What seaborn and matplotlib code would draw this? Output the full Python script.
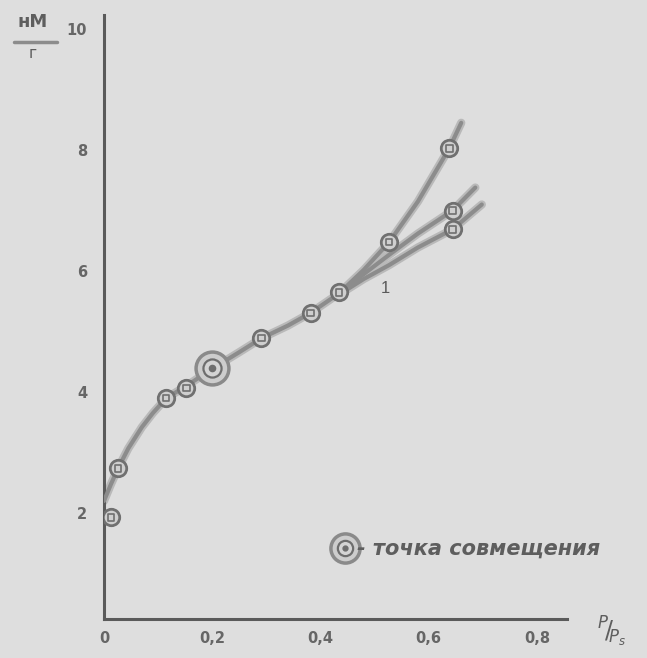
import matplotlib
matplotlib.use("Agg")
import matplotlib.pyplot as plt
import seaborn as sns
import numpy as np
import pandas as pd
from matplotlib.lines import Line2D

# ---- data ----
pts_x = [0.013, 0.026, 0.115, 0.152, 0.291, 0.382, 0.434, 0.527, 0.638, 0.644, 0.644]
pts_y = [1.93, 2.74, 3.90, 4.07, 4.89, 5.31, 5.65, 6.48, 8.03, 7.00, 6.69]

match_x = [0.199]          # точка совмещения
match_y = [4.40]

common_x = [0.0, 0.013, 0.026, 0.045, 0.07, 0.09, 0.115, 0.152, 0.199, 0.25, 0.291, 0.34, 0.382, 0.434]
common_y = [2.20, 2.48, 2.74, 3.07, 3.42, 3.65, 3.90, 4.10, 4.38, 4.66, 4.89, 5.10, 5.31, 5.63]

top_x = [0.434, 0.48, 0.527, 0.58, 0.638, 0.66]
top_y = [5.63, 6.02, 6.48, 7.15, 8.03, 8.45]
mid_x = [0.434, 0.48, 0.527, 0.58, 0.644, 0.686]
mid_y = [5.63, 5.95, 6.27, 6.62, 7.00, 7.38]
low_x = [0.434, 0.48, 0.527, 0.58, 0.644, 0.698]
low_y = [5.61, 5.87, 6.10, 6.39, 6.69, 7.10]

xticks = [0, 0.2, 0.4, 0.6, 0.8]
xtick_labels = ["0", "0,2", "0,4", "0,6", "0,8"]
yticks = [2, 4, 6, 8, 10]
ytick_labels = ["2", "4", "6", "8", "10"]

BG = "#dedede"
LINE = "#8c8c8c"
HALO = "#b9b9b9"
DARK = "#5a5a5a"
TXT = "#5e5e5e"

sns.set_theme(style="white")
plt.rcParams["font.family"] = ["DejaVu Sans"]

fig = plt.figure(figsize=(6.47, 6.58), dpi=100, facecolor=BG)
ax = fig.add_axes([0.1607, 0.0593, 0.876 - 0.1607, 0.977 - 0.0593])
ax.set_facecolor(BG)

curves = [(common_x, common_y), (top_x, top_y), (mid_x, mid_y), (low_x, low_y)]
for cx, cy in curves:
    df = pd.DataFrame({"x": cx, "y": cy})
    sns.lineplot(data=df, x="x", y="y", ax=ax, sort=False, color=HALO, lw=6.0,
                 solid_capstyle="round", zorder=2)
for cx, cy in curves:
    df = pd.DataFrame({"x": cx, "y": cy})
    sns.lineplot(data=df, x="x", y="y", ax=ax, sort=False, color=LINE, lw=3.0,
                 solid_capstyle="round", zorder=3)

pdf = pd.DataFrame({"x": pts_x, "y": pts_y})
sns.scatterplot(data=pdf, x="x", y="y", ax=ax, s=140, marker="o",
                facecolor="#cfcfcf", edgecolor="#707070", linewidth=2.0, zorder=5)
sns.scatterplot(data=pdf, x="x", y="y", ax=ax, s=22, marker="s",
                facecolor="none", edgecolor="#707070", linewidth=1.2, zorder=6)

mdf = pd.DataFrame({"x": match_x, "y": match_y})
for s, fc, ec, lw in [(560, "#cdcdcd", "#8a8a8a", 2.5), (170, "#d4d4d4", "#6e6e6e", 1.6),
                      (20, "#6e6e6e", "#6e6e6e", 1.0)]:
    sns.scatterplot(data=mdf, x="x", y="y", ax=ax, s=s, marker="o",
                    facecolor=fc, edgecolor=ec, linewidth=lw, zorder=7)

ax.set_xlim(0, 0.855)
ax.set_ylim(0.25, 10.23)
ax.set_xticks(xticks)
ax.set_xticklabels(xtick_labels, fontweight="bold")
ax.set_yticks(yticks)
ax.set_yticklabels(ytick_labels, fontweight="bold")
ax.set_xlabel("")
ax.set_ylabel("")
for side in ["top", "right"]:
    ax.spines[side].set_visible(False)
for side in ["left", "bottom"]:
    ax.spines[side].set_color(DARK)
    ax.spines[side].set_linewidth(2.2)
ax.tick_params(axis="both", colors=DARK, labelcolor="#666666", labelsize=10.5,
               direction="in", length=5, width=1.2)
ax.tick_params(axis="x", pad=9)
ax.tick_params(axis="y", pad=12)

# curve label "1"
ax.text(0.52, 5.72, "1", fontsize=12, color=DARK, family="Liberation Sans",
        ha="center", va="center")

# legend: match-point marker + text
lx, ly = 345, 548
fig.add_artist(Line2D([lx / 647], [1 - ly / 658], marker="o", markersize=21,
                      markerfacecolor="#cdcdcd", markeredgecolor="#8a8a8a",
                      markeredgewidth=2.5, transform=fig.transFigure))
fig.add_artist(Line2D([lx / 647], [1 - ly / 658], marker="o", markersize=11,
                      markerfacecolor="#d4d4d4", markeredgecolor="#6e6e6e",
                      markeredgewidth=1.6, transform=fig.transFigure))
fig.add_artist(Line2D([lx / 647], [1 - ly / 658], marker="o", markersize=3.5,
                      markerfacecolor="#6e6e6e", markeredgecolor="#6e6e6e",
                      transform=fig.transFigure))
fig.text(357 / 647, 1 - 549 / 658, "- точка совмещения", fontsize=15,
         style="italic", fontweight="bold", color=TXT, ha="left", va="center")

# y unit label  нМ / г
fig.text(33 / 647, 1 - 22 / 658, "нМ", fontsize=13, color=TXT, ha="center", va="center",
         fontweight="bold")
fig.add_artist(Line2D([14 / 647, 57 / 647], [1 - 42 / 658, 1 - 42 / 658],
                      color="#8c8c8c", lw=2.5, transform=fig.transFigure))
fig.text(33 / 647, 1 - 53 / 658, "г", fontsize=11, color=TXT, ha="center", va="center")

# x unit label P/Ps
fig.text(612 / 647, 1 - 632 / 658, r"$^{P}\!/\!_{P_s}$", fontsize=17, color=TXT,
         ha="center", va="center")

fig.savefig("out.png", dpi=100, facecolor=BG)
